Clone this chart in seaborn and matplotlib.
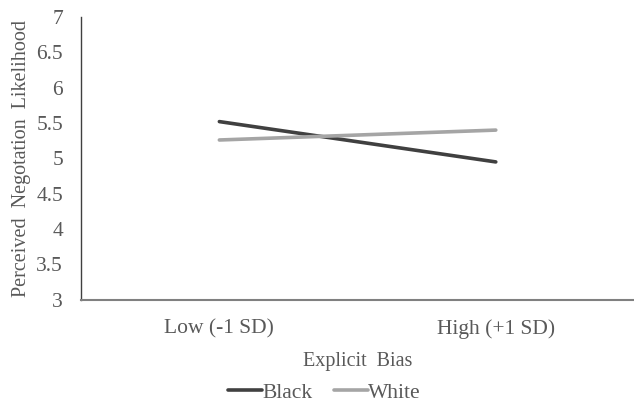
import matplotlib
matplotlib.use("Agg")
import matplotlib.pyplot as plt
import seaborn as sns
import pandas as pd

# values
bias_levels = ["Low (-1 SD)", "High (+1 SD)"]
black_vals = [5.52, 4.95]
white_vals = [5.26, 5.40]
groups = ["Black", "White"]
y_ticks = [3, 3.5, 4, 4.5, 5, 5.5, 6, 6.5, 7]

df = pd.DataFrame({
    "bias": bias_levels * 2,
    "likelihood": black_vals + white_vals,
    "group": [groups[0]] * 2 + [groups[1]] * 2,
})

sns.set_style("white")
plt.rcParams['font.family'] = ['Liberation Serif', 'DejaVu Serif']
text_col = "#595959"

fig = plt.figure(figsize=(6.34, 4.03), dpi=100)
ax = fig.add_axes([0.128, 0.256, 0.872, 0.702])

sns.lineplot(data=df, x="bias", y="likelihood", hue="group",
             palette={"Black": "#404040", "White": "#a5a5a5"},
             linewidth=2.6, sort=False, ax=ax)

ax.set_xlim(-0.5, 1.5)
ax.set_ylim(3, 7)
ax.set_yticks(y_ticks)
ax.set_yticklabels([f"{t:g}" for t in y_ticks])
ax.tick_params(axis="both", length=0, labelsize=15.5, colors=text_col)
ax.tick_params(axis="y", pad=13)
ax.tick_params(axis="x", pad=14)

for side in ["top", "right"]:
    ax.spines[side].set_visible(False)
ax.spines["left"].set_color("#404040")
ax.spines["left"].set_linewidth(1.0)
ax.spines["bottom"].set_color("#808080")
ax.spines["bottom"].set_linewidth(1.5)

ax.set_xlabel("Explicit  Bias", fontsize=14.5, color=text_col, labelpad=9)
ax.set_ylabel("Perceived  Negotation  Likelihood", fontsize=14.5, color=text_col, labelpad=4)

ax.legend(loc="upper center", bbox_to_anchor=(0.44, -0.225), ncol=2, frameon=False,
          fontsize=15.5, handlelength=1.6, handletextpad=0.0, columnspacing=1.0,
          labelcolor=text_col)

fig.savefig("out.png", dpi=100)
